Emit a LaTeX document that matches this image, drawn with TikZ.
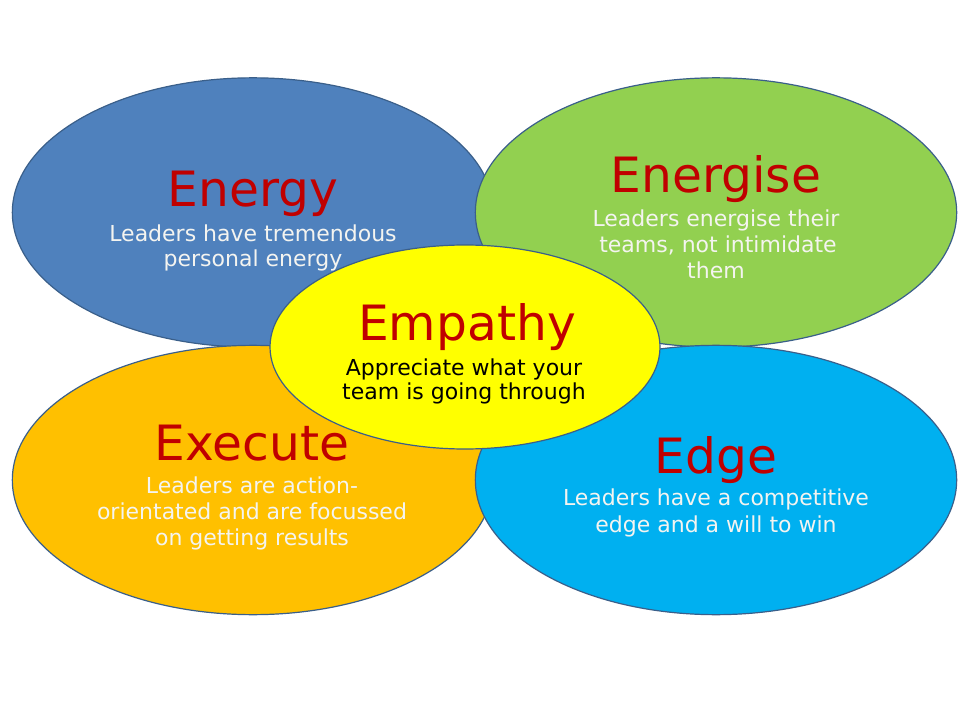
\documentclass[tikz,border=0pt]{standalone}
\usepackage{fontspec}
\setmainfont{DejaVu Sans}
\usetikzlibrary{shapes.geometric}
\definecolor{cblue}{HTML}{4F81BD}
\definecolor{cgreen}{HTML}{92D050}
\definecolor{corange}{HTML}{FFC000}
\definecolor{clblue}{HTML}{00B0F0}
\definecolor{cyellow}{HTML}{FFFF00}
\definecolor{cline}{HTML}{3A5F8A}
\definecolor{ctitle}{HTML}{C00000}
\definecolor{cbody}{HTML}{F4F4F0}
\tikzset{
  blob/.style={ellipse, draw=cline, line width=0.9pt, inner sep=0pt,
    minimum width=361pt, minimum height=202pt},
  ttl/.style={anchor=base, text=ctitle, font=\fontsize{36.5}{40}\selectfont, inner sep=0pt},
  bdy/.style={anchor=base, text=cbody, font=\fontsize{16.5}{19.5}\selectfont, inner sep=0pt, align=center},
}
\begin{document}
\begin{tikzpicture}[x=0.75pt,y=-0.75pt]
\useasboundingbox[fill=white] (0,0) rectangle (960,720);
\node[blob, fill=cblue] (energy) at (253,212.5) {};
\node[blob, fill=cgreen] (energise) at (716,212.5) {};
\node[blob, fill=corange] (execute) at (253,480) {};
\node[blob, fill=clblue] (edge) at (716,480) {};
\node[ellipse, draw=cline, line width=0.9pt, inner sep=0pt, fill=cyellow,
  minimum width=292.5pt, minimum height=153pt] (empathy) at (465,347) {};
% Energy
\node[ttl] (t1) at (253,207) {Energy};
\node[bdy] (b1a) at (253,242) {Leaders have tremendous};
\node[bdy] (b1b) at (253,267) {personal energy};
% Energise
\node[ttl] (t2) at (716,193) {Energise};
\node[bdy] (b2a) at (716,227) {Leaders energise their};
\node[bdy] (b2b) at (718,253) {teams, not intimidate};
\node[bdy] (b2c) at (716,279) {them};
% Execute
\node[ttl] (t3) at (252,460) {Execute};
\node[bdy] (b3a) at (252,493) {Leaders are action-};
\node[bdy] (b3b) at (252,519) {orientated and are focussed};
\node[bdy] (b3c) at (252,545) {on getting results};
% Edge
\node[ttl] (t4) at (716,473) {Edge};
\node[bdy] (b4a) at (716,505) {Leaders have a competitive};
\node[bdy] (b4b) at (716,532) {edge and a will to win};
% Empathy
\node[ttl] (t5) at (467,340) {Empathy};
\node[bdy, text=black] (b5a) at (464,375) {Appreciate what your};
\node[bdy, text=black] (b5b) at (464,399) {team is going through};
\end{tikzpicture}
\end{document}
